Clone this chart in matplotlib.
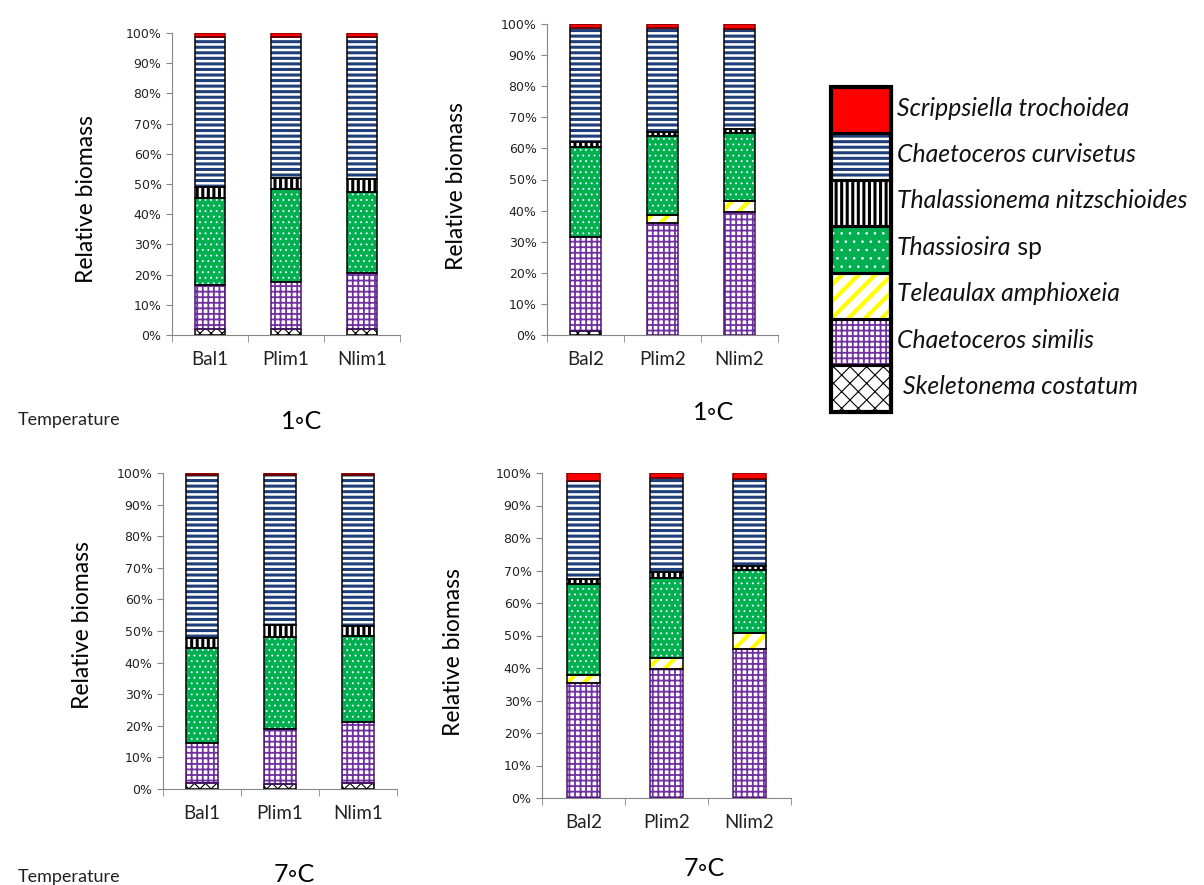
import matplotlib
matplotlib.use("Agg")
import matplotlib.pyplot as plt
from matplotlib.patches import Rectangle
import numpy as np

species = ['Skeletonema costatum', 'Chaetoceros similis', 'Teleaulax amphioxeia',
           'Thassiosira', 'Thalassionema nitzschioides', 'Chaetoceros curvisetus',
           'Scrippsiella trochoidea']

# cumulative tops (%) of each species layer, bottom to top
tops_1a = [[1.9, 16.4, 16.4, 45.4, 49.1, 98.8, 100],
           [1.9, 17.6, 17.6, 48.3, 52.1, 98.8, 100],
           [1.9, 20.6, 20.6, 47.4, 51.7, 98.8, 100]]
tops_1b = [[1.3, 31.6, 31.6, 60.3, 62.1, 98.6, 100],
           [0.0, 35.9, 38.7, 64.0, 65.4, 98.8, 100],
           [0.0, 39.4, 43.1, 65.0, 66.2, 98.3, 100]]
tops_7a = [[1.9, 14.5, 14.5, 44.5, 47.9, 99.3, 100],
           [1.5, 18.9, 18.9, 48.0, 51.8, 99.3, 100],
           [1.9, 21.2, 21.2, 48.4, 51.7, 99.3, 100]]
tops_7b = [[0.0, 35.3, 38.0, 65.8, 67.4, 97.6, 100],
           [0.0, 39.6, 43.0, 67.6, 69.6, 98.5, 100],
           [0.0, 46.0, 50.9, 70.2, 71.5, 98.3, 100]]

groups_1 = ['Bal1', 'Plim1', 'Nlim1']
groups_2 = ['Bal2', 'Plim2', 'Nlim2']

# face, hatch, hatch colour, hatch line width
styles = [
    ('white', 'xxx', 'black', 0.8),
    ('white', '+++', '#7030A0', 1.3),
    ('white', '//', '#FFFF00', 3.0),
    ('#00B050', '...', 'white', 0.6),
    ('white', '|||', 'black', 2.2),
    ('white', '---', '#1F3F7A', 2.2),
    ('#FF0000', '', '#FF0000', 1.0),
]

label_font = ['Lato', 'DejaVu Sans']
fig = plt.figure(figsize=(12.04, 8.85), dpi=100)


def px_axes(x0, y0, x1, y1):
    return fig.add_axes([x0 / 1204, 1 - y1 / 885, (x1 - x0) / 1204, (y1 - y0) / 885])


def hatched(ax, x, w, bottom, height, face, hatch, hcol, hlw, zorder=2):
    r = Rectangle((x - w / 2, bottom), w, height, facecolor=face, edgecolor=hcol,
                  hatch=hatch, linewidth=0, zorder=zorder)
    try:
        r.set_hatch_linewidth(hlw)
    except AttributeError:
        pass
    ax.add_patch(r)
    return r


def stacked(ax, tops, groups, ylab_xy):
    width = 0.4
    for i, t in enumerate(tops):
        prev = 0.0
        for k, top in enumerate(t):
            h = top - prev
            if h > 0:
                face, hatch, hcol, hlw = styles[k]
                hatched(ax, i, width, prev, h, face, hatch, hcol, hlw)
                edge = '#7A0000' if k == 6 else ('#4B1570' if k == 1 else 'black')
                ax.add_patch(Rectangle((i - width / 2, prev), width, h, facecolor='none',
                                       edgecolor=edge, linewidth=1.1, zorder=3))
            prev = top
    ax.set_xlim(-0.5, 2.5)
    ax.set_ylim(0, 100)
    for s in ['top', 'right']:
        ax.spines[s].set_visible(False)
    for s in ['left', 'bottom']:
        ax.spines[s].set_color('#868686')
    ax.set_yticks(np.arange(0, 101, 10))
    ax.set_yticklabels(['%d%%' % v for v in range(0, 101, 10)], fontsize=9,
                       family='DejaVu Sans', color='#222222')
    ax.tick_params(axis='y', colors='#868686', labelcolor='#222222', length=4)
    ax.set_xticks(range(3))
    ax.set_xticklabels(groups, fontsize=13.5, family=label_font, color='#222222')
    ax.tick_params(axis='x', length=0, pad=11.5)
    ax.set_xticks([-0.5, 0.5, 1.5, 2.5], minor=True)
    ax.tick_params(axis='x', which='minor', length=5, colors='#868686')
    ax.set_ylabel('Relative biomass', fontsize=16.5, family=label_font, color='black')
    ax.yaxis.set_label_coords(*ylab_xy)


ax1 = px_axes(172, 33, 400, 335)
stacked(ax1, tops_1a, groups_1, (-0.328, 0.45))
ax2 = px_axes(547, 24, 778, 335)
stacked(ax2, tops_1b, groups_2, (-0.347, 0.48))
ax3 = px_axes(163, 473, 397, 789)
stacked(ax3, tops_7a, groups_1, (-0.30, 0.52))
ax4 = px_axes(542, 473, 791, 798)
stacked(ax4, tops_7b, groups_2, (-0.314, 0.45))

fig.text(18 / 1204, 1 - 420 / 885, 'Temperature', fontsize=13, family=label_font,
         va='center', color='#222222')
fig.text(18 / 1204, 1 - 877 / 885, 'Temperature', fontsize=13, family=label_font,
         va='center', color='#222222')
fig.text(302 / 1204, 1 - 422 / 885, '1\u25E6C', fontsize=18, family=label_font,
         ha='center', va='center')
fig.text(714 / 1204, 1 - 413 / 885, '1\u25E6C', fontsize=18, family=label_font,
         ha='center', va='center')
fig.text(294 / 1204, 1 - 874 / 885, '7\u25E6C', fontsize=18, family=label_font,
         ha='center', va='center')
fig.text(704 / 1204, 1 - 869 / 885, '7\u25E6C', fontsize=18, family=label_font,
         ha='center', va='center')

# legend drawn as a column of swatches
lg = fig.add_axes([0, 0, 1, 1])
lg.set_xlim(0, 1204)
lg.set_ylim(885, 0)
lg.axis('off')
legend_names = [('Scrippsiella trochoidea', ''), ('Chaetoceros curvisetus', ''),
                ('Thalassionema nitzschioides', ''), ('Thassiosira', ' sp'),
                ('Teleaulax amphioxeia', ''), ('Chaetoceros similis', ''),
                ('Skeletonema costatum', '')]
sw_top = 87
sw_h = 46.4
for j, (name, extra) in enumerate(legend_names):
    k = 6 - j
    face, hatch, hcol, hlw = styles[k]
    y0 = sw_top + j * sw_h
    hatch_l = {'xxx': 'xx', '...': '..', '+++': '+++', '//': '//',
               '|||': '|||', '---': '---', '': ''}[hatch]
    hatched(lg, 861, 60, y0, sw_h, face, hatch_l, hcol, hlw)
    lg.add_patch(Rectangle((831, y0), 60, sw_h, facecolor='none', edgecolor='black',
                           linewidth=2.2, zorder=3))
    tx = 903 if k == 0 else 897
    t = lg.text(tx, y0 + sw_h / 2 - 2, name, fontsize=17.8, style='italic',
                family=label_font, va='center', color='#111111')
    if extra:
        lg.annotate(extra, xy=(1, 0.5), xycoords=t, fontsize=17.8, family=label_font,
                    va='center', ha='left', color='#111111')
lg.add_patch(Rectangle((831, sw_top), 60, sw_h * 7, facecolor='none', edgecolor='black',
                       linewidth=3, zorder=4))

fig.savefig('out.png', dpi=100)
